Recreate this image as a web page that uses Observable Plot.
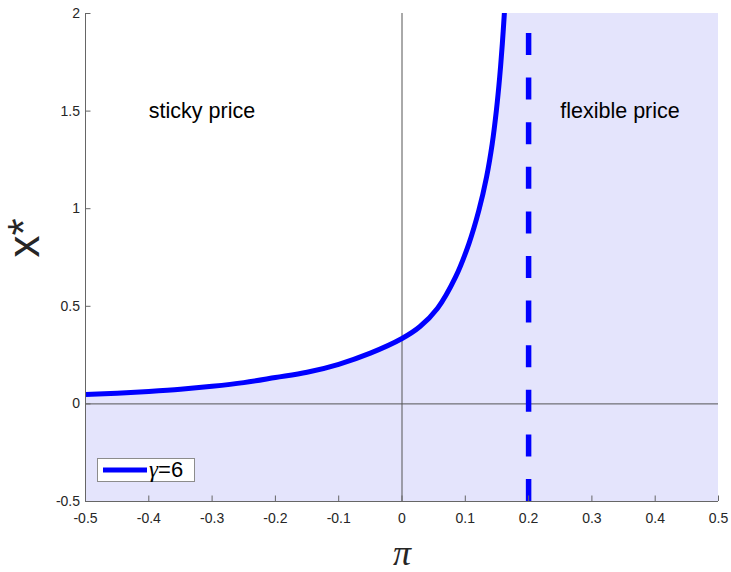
<!DOCTYPE html>
<html>
<head>
<meta charset="utf-8">
<script src="https://cdn.jsdelivr.net/npm/d3@7"></script>
<script src="https://cdn.jsdelivr.net/npm/@observablehq/plot@0.6"></script>
<style>
  html, body { margin: 0; padding: 0; background: white; }
  #wrap { position: relative; width: 731px; height: 572px; }
  #legend {
    position: absolute; left: 97px; top: 458px; width: 98px; height: 24px;
    box-sizing: border-box; border: 1px solid #8c8c8c; background: white;
    display: flex; align-items: center; padding-left: 5px;
    font-family: "Liberation Sans", Arial, Helvetica, sans-serif; font-size: 22px; color: #000;
    line-height: 22px;
  }
  #legend .g { font-family: "Liberation Serif", "Times New Roman", serif; font-style: italic; font-size: 23px; margin-left: 2px; }
</style>
</head>
<body>
<div id="wrap"></div>
<script>
// Curve: inflation pi vs optimal x*
const piValues = [-0.5, -0.45, -0.4, -0.35, -0.3, -0.25, -0.2, -0.15, -0.1, -0.05, 0, 0.028, 0.0562, 0.0845, 0.1056, 0.1214, 0.1335, 0.1425, 0.1491, 0.1543, 0.1585, 0.1617];
const xStar    = [0.048, 0.055, 0.064, 0.075, 0.090, 0.109, 0.135, 0.162, 0.203, 0.260, 0.335, 0.395, 0.490, 0.649, 0.820, 0.991, 1.161, 1.332, 1.503, 1.674, 1.845, 2.0];
const thresholdPi = [0.2];
const xTicks = [-0.5, -0.4, -0.3, -0.2, -0.1, 0, 0.1, 0.2, 0.3, 0.4, 0.5];
const yTicks = [-0.5, 0, 0.5, 1, 1.5, 2];
const regionLabels = ["sticky price", "flexible price"];
const regionX = [-0.4, 0.25];
const regionY = [1.5, 1.5];
const legendLabel = "6";

const curve = piValues.map((p, i) => ({pi: p, xs: xStar[i]}));
const n = curve.length;
const rightShade = [{x1: piValues[n - 2], x2: xTicks[xTicks.length - 1], y1: yTicks[0], y2: yTicks[yTicks.length - 1]}];
const labels = regionLabels.map((t, i) => ({t, x: regionX[i], y: regionY[i]}));

const fmt = d => String(Math.round(d * 10) / 10);
const shadeColor = "#e4e4fc";

const chart = Plot.plot({
  width: 731, height: 572,
  marginLeft: 85, marginRight: 13, marginTop: 13, marginBottom: 71,
  x: {domain: [-0.5, 0.5]},
  y: {domain: [-0.5, 2]},
  style: {fontFamily: "'Liberation Sans', Arial, Helvetica, sans-serif", fontSize: "14px", color: "#262626", background: "white"},
  marks: [
    Plot.areaY(curve, {x: "pi", y1: yTicks[0], y2: "xs", fill: shadeColor, curve: "catmull-rom", clip: true}),
    Plot.rect(rightShade, {x1: "x1", x2: "x2", y1: "y1", y2: "y2", fill: shadeColor}),
    Plot.ruleX([0], {stroke: "#555", strokeWidth: 1}),
    Plot.ruleY([0], {stroke: "#555", strokeWidth: 1}),
    Plot.line(curve, {x: "pi", y: "xs", stroke: "#0000ff", strokeWidth: 5, curve: "catmull-rom", clip: true}),
    Plot.ruleX(thresholdPi, {y1: yTicks[0], y2: yTicks[yTicks.length - 1], stroke: "#0000ff", strokeWidth: 5.5, strokeDasharray: "22,22.6"}),
    Plot.axisX({ticks: xTicks, tickSize: -5.5, tickPadding: 17, tickFormat: fmt, stroke: "#666", fill: "#262626", fontSize: 14, label: null}),
    Plot.axisY({ticks: yTicks, tickSize: -5.5, tickPadding: 11, tickFormat: fmt, stroke: "#666", fill: "#262626", fontSize: 14, label: null}),
    Plot.ruleY([yTicks[0]], {stroke: "#666", strokeWidth: 1}),
    Plot.ruleX([xTicks[0]], {stroke: "#666", strokeWidth: 1}),
    Plot.text(labels, {x: "x", y: "y", text: "t", textAnchor: "start", fontSize: 21.5, fill: "#000"}),
    Plot.text(["x*"], {frameAnchor: "left", rotate: -90, lineAnchor: "bottom", dx: -47, fontSize: 44, fill: "#262626"}),
    Plot.text(["π"], {frameAnchor: "bottom", lineAnchor: "bottom", dy: 63, fontSize: 36, fill: "#262626",
      fontFamily: "'Liberation Serif', 'Times New Roman', serif", fontStyle: "italic"})
  ]
});

const wrap = document.getElementById("wrap");
wrap.appendChild(chart);
const legend = document.createElement("div");
legend.id = "legend";
legend.innerHTML = '<svg width="44" height="6" style="display:block"><line x1="0" x2="44" y1="3" y2="3" stroke="#0000ff" stroke-width="5"/></svg><span class="g">γ</span><span>=' + legendLabel + '</span>';
wrap.appendChild(legend);
</script>
</body>
</html>
